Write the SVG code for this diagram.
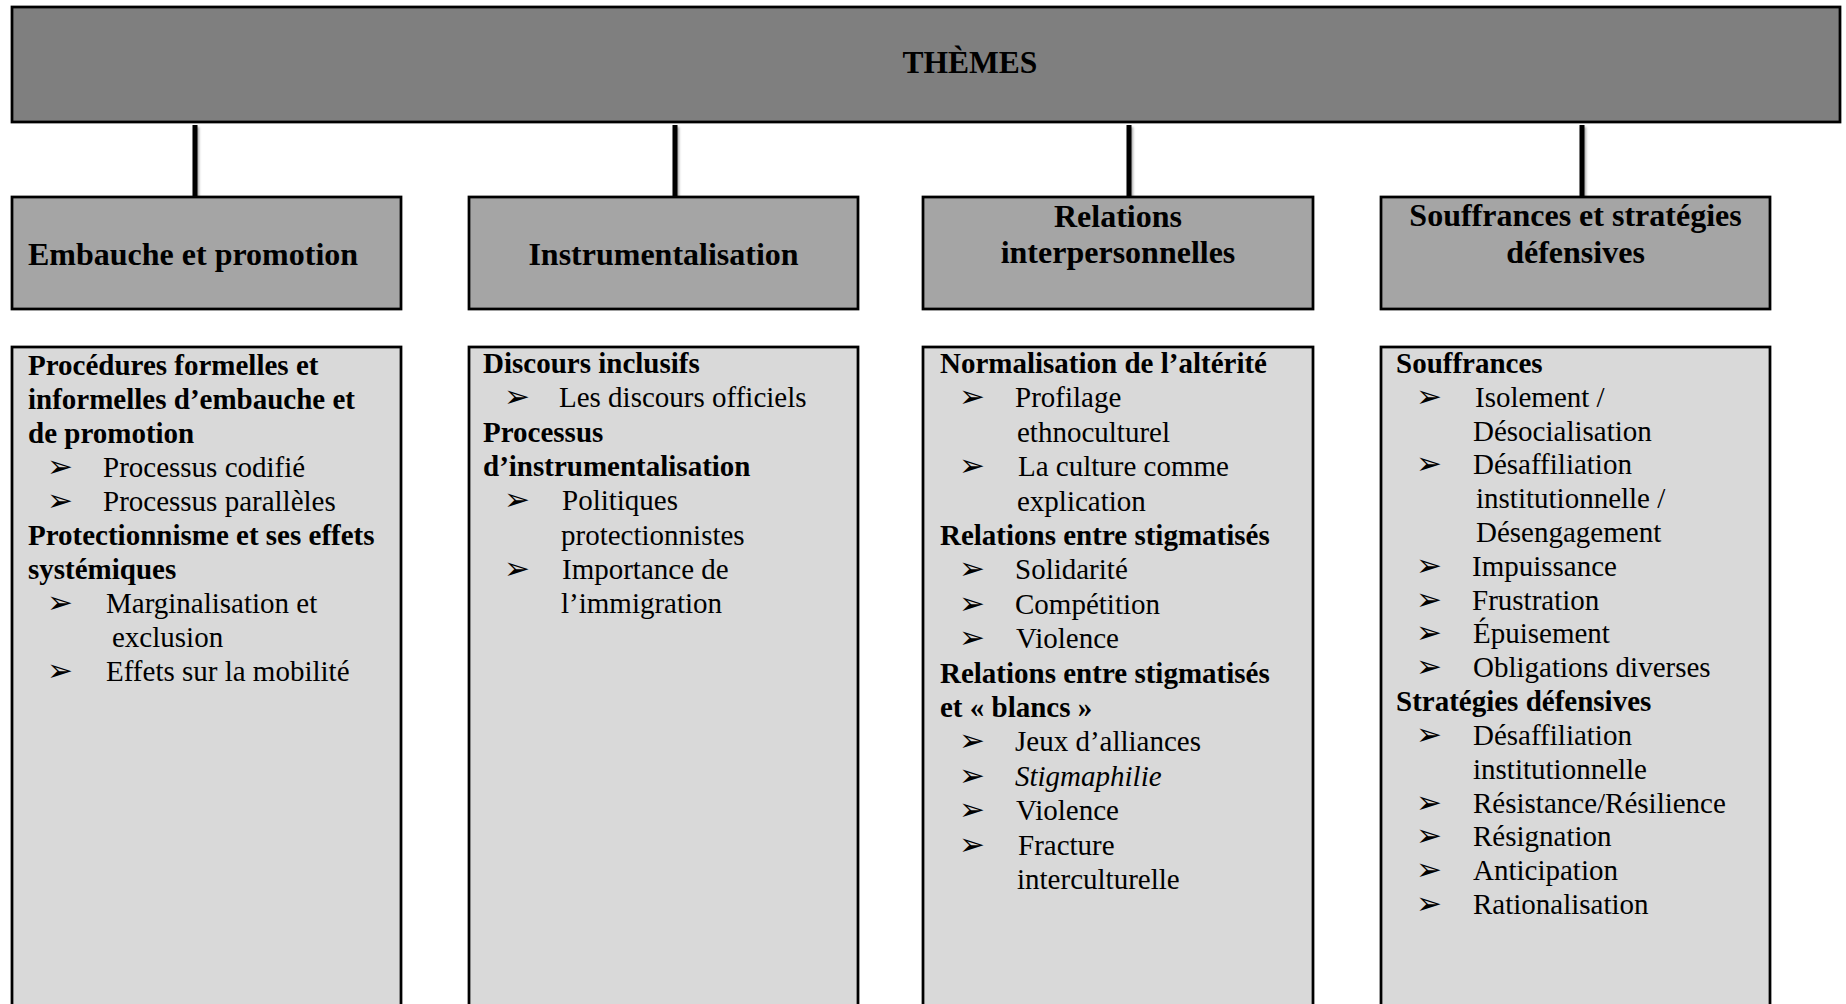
<svg xmlns="http://www.w3.org/2000/svg" width="1846" height="1004" viewBox="0 0 1846 1004">
  <defs>
    <filter id="soft" x="-200%" y="-20%" width="500%" height="140%">
      <feDropShadow dx="1.5" dy="2" stdDeviation="1.2" flood-color="#000" flood-opacity="0.35"/>
    </filter>
  </defs>
  <style>
    .root { fill: #7f7f7f; stroke: #000; stroke-width: 2.75; }
    .head { fill: #a5a5a5; stroke: #000; stroke-width: 2.75; }
    .body { fill: #d9d9d9; stroke: #000; stroke-width: 2.75; }
    .link { stroke: #000; stroke-width: 5; fill: none; }
    text { font-family: "Liberation Serif", "Times New Roman", serif; fill: #000; }
    .t-root { font-size: 31.5px; font-weight: bold; }
    .t-head { font-size: 32px; font-weight: bold; }
    .t-sec { font-size: 29px; font-weight: bold; }
    .t-item { font-size: 29px; }
    .bul { font-family: "DejaVu Sans", sans-serif; font-size: 31px; }
    .it { font-style: italic; }
  </style>

  <rect width="1846" height="1004" fill="#fff"/>

  <!-- connectors from the theme bar to each category -->
  <g id="connectors" filter="url(#soft)">
    <line class="link" x1="195" y1="125" x2="195" y2="197"/>
    <line class="link" x1="675" y1="125" x2="675" y2="197"/>
    <line class="link" x1="1129" y1="125" x2="1129" y2="197"/>
    <line class="link" x1="1582" y1="125" x2="1582" y2="197"/>
  </g>

  <!-- top bar -->
  <g id="themes">
    <rect class="root" x="12" y="7" width="1828" height="115"/>
    <text class="t-root" x="970" y="73" text-anchor="middle">THÈMES</text>
  </g>

  <!-- category headers -->
  <g id="embauche">
    <rect class="head" x="12" y="197" width="389" height="112"/>
    <text class="t-head" x="28" y="265">Embauche et promotion</text>
  </g>
  <g id="instrumentalisation">
    <rect class="head" x="469" y="197" width="389" height="112"/>
    <text class="t-head" x="663.5" y="265" text-anchor="middle">Instrumentalisation</text>
  </g>
  <g id="relations">
    <rect class="head" x="923" y="197" width="390" height="112"/>
    <text class="t-head" x="1118" y="227" text-anchor="middle">Relations</text>
    <text class="t-head" x="1118" y="263" text-anchor="middle">interpersonnelles</text>
  </g>
  <g id="souffrances">
    <rect class="head" x="1381" y="197" width="389" height="112"/>
    <text class="t-head" x="1575.5" y="226" text-anchor="middle">Souffrances et stratégies</text>
    <text class="t-head" x="1575.5" y="263" text-anchor="middle">défensives</text>
  </g>

  <!-- detail boxes (run past the bottom edge) -->
  <g id="embauche-details">
    <rect class="body" x="12" y="347" width="389" height="680"/>
    <text class="t-sec" x="28" y="375">Procédures formelles et</text>
    <text class="t-sec" x="28" y="409">informelles d’embauche et</text>
    <text class="t-sec" x="28" y="443">de promotion</text>
    <text class="bul" x="47" y="477">➢</text>
    <text class="t-item" x="103" y="477">Processus codifié</text>
    <text class="bul" x="47" y="511">➢</text>
    <text class="t-item" x="103" y="511">Processus parallèles</text>
    <text class="t-sec" x="28" y="545">Protectionnisme et ses effets</text>
    <text class="t-sec" x="28" y="579">systémiques</text>
    <text class="bul" x="47" y="613">➢</text>
    <text class="t-item" x="106" y="613">Marginalisation et</text>
    <text class="t-item" x="112" y="647">exclusion</text>
    <text class="bul" x="47" y="681">➢</text>
    <text class="t-item" x="106" y="681">Effets sur la mobilité</text>
  </g>

  <g id="instrumentalisation-details">
    <rect class="body" x="469" y="347" width="389" height="680"/>
    <text class="t-sec" x="483" y="373">Discours inclusifs</text>
    <text class="bul" x="504" y="407">➢</text>
    <text class="t-item" x="559" y="407">Les discours officiels</text>
    <text class="t-sec" x="483" y="442">Processus</text>
    <text class="t-sec" x="483" y="476">d’instrumentalisation</text>
    <text class="bul" x="504" y="510">➢</text>
    <text class="t-item" x="562" y="510">Politiques</text>
    <text class="t-item" x="561" y="545">protectionnistes</text>
    <text class="bul" x="504" y="579">➢</text>
    <text class="t-item" x="562" y="579">Importance de</text>
    <text class="t-item" x="561" y="613">l’immigration</text>
  </g>

  <g id="relations-details">
    <rect class="body" x="923" y="347" width="390" height="680"/>
    <text class="t-sec" x="940" y="373">Normalisation de l’altérité</text>
    <text class="bul" x="959" y="407">➢</text>
    <text class="t-item" x="1015" y="407">Profilage</text>
    <text class="t-item" x="1017" y="442">ethnoculturel</text>
    <text class="bul" x="959" y="476">➢</text>
    <text class="t-item" x="1018" y="476">La culture comme</text>
    <text class="t-item" x="1017" y="511">explication</text>
    <text class="t-sec" x="940" y="545">Relations entre stigmatisés</text>
    <text class="bul" x="959" y="579">➢</text>
    <text class="t-item" x="1015" y="579">Solidarité</text>
    <text class="bul" x="959" y="614">➢</text>
    <text class="t-item" x="1015" y="614">Compétition</text>
    <text class="bul" x="959" y="648">➢</text>
    <text class="t-item" x="1016" y="648">Violence</text>
    <text class="t-sec" x="940" y="683">Relations entre stigmatisés</text>
    <text class="t-sec" x="940" y="717">et « blancs »</text>
    <text class="bul" x="959" y="751">➢</text>
    <text class="t-item" x="1015" y="751">Jeux d’alliances</text>
    <text class="bul" x="959" y="786">➢</text>
    <text class="t-item it" x="1015" y="786">Stigmaphilie</text>
    <text class="bul" x="959" y="820">➢</text>
    <text class="t-item" x="1016" y="820">Violence</text>
    <text class="bul" x="959" y="855">➢</text>
    <text class="t-item" x="1018" y="855">Fracture</text>
    <text class="t-item" x="1017" y="889">interculturelle</text>
  </g>

  <g id="souffrances-details">
    <rect class="body" x="1381" y="347" width="389" height="680"/>
    <text class="t-sec" x="1396" y="373">Souffrances</text>
    <text class="bul" x="1416" y="407">➢</text>
    <text class="t-item" x="1475" y="407">Isolement /</text>
    <text class="t-item" x="1473" y="441">Désocialisation</text>
    <text class="bul" x="1416" y="474">➢</text>
    <text class="t-item" x="1473" y="474">Désaffiliation</text>
    <text class="t-item" x="1476" y="508">institutionnelle /</text>
    <text class="t-item" x="1476" y="542">Désengagement</text>
    <text class="bul" x="1416" y="576">➢</text>
    <text class="t-item" x="1472" y="576">Impuissance</text>
    <text class="bul" x="1416" y="610">➢</text>
    <text class="t-item" x="1472" y="610">Frustration</text>
    <text class="bul" x="1416" y="643">➢</text>
    <text class="t-item" x="1473" y="643">Épuisement</text>
    <text class="bul" x="1416" y="677">➢</text>
    <text class="t-item" x="1473" y="677">Obligations diverses</text>
    <text class="t-sec" x="1396" y="711">Stratégies défensives</text>
    <text class="bul" x="1416" y="745">➢</text>
    <text class="t-item" x="1473" y="745">Désaffiliation</text>
    <text class="t-item" x="1473" y="779">institutionnelle</text>
    <text class="bul" x="1416" y="813">➢</text>
    <text class="t-item" x="1473" y="813">Résistance/Résilience</text>
    <text class="bul" x="1416" y="846">➢</text>
    <text class="t-item" x="1473" y="846">Résignation</text>
    <text class="bul" x="1416" y="880">➢</text>
    <text class="t-item" x="1473" y="880">Anticipation</text>
    <text class="bul" x="1416" y="914">➢</text>
    <text class="t-item" x="1473" y="914">Rationalisation</text>
  </g>
</svg>
